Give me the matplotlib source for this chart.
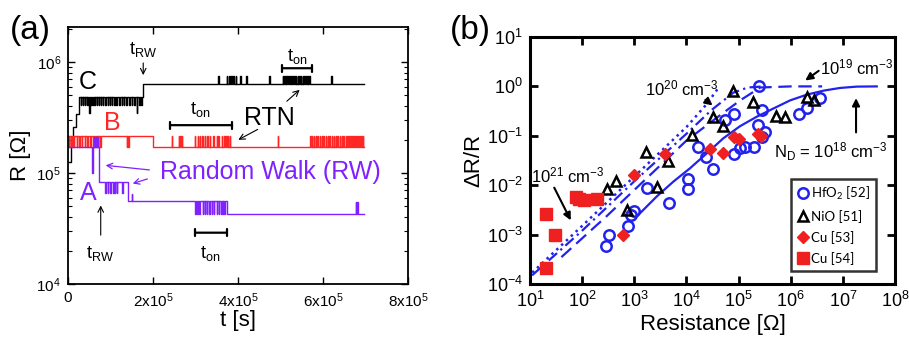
import matplotlib
matplotlib.use('Agg')
import matplotlib.pyplot as plt
import numpy as np
from bisect import bisect_right

plt.rcParams['font.family'] = ['Liberation Sans', 'DejaVu Sans']
plt.rcParams['mathtext.default'] = 'regular'

# ---------------- panel (a): R vs t traces ----------------
t_end = 6.96e5
spike_w = 1.2e3

# trace A (purple)
a_t = [0, 7.4e4, 1.42e5, 3.74e5]
a_r = [1.7e5, 8.3e4, 5.6e4, 4.3e4]
a_spike_levels = [1.0e5, 2.1e5, 6.6e4, 6.5e4, 4.3e4, 5.5e4]
a_spike_times = [
    [5.7e4],
    [6.0e4, 6.25e4, 6.5e4, 6.75e4, 7.0e4],
    [8.8e4, 9.3e4, 9.9e4, 1.06e5, 1.1e5, 1.15e5, 1.28e5],
    [1.5e5],
    [2.99e5, 3.04e5, 3.09e5, 3.17e5, 3.22e5, 3.27e5, 3.32e5, 3.38e5,
     3.43e5, 3.5e5, 3.55e5, 3.6e5, 3.64e5, 3.68e5],
    [6.77e5, 6.8e5],
]

# trace B (red)
b_t = [0, 2.0e5]
b_r = [2.15e5, 1.71e5]
b_spike_levels = [1.71e5, 2.15e5]
b_spike_times = [
    [2e3, 6e3, 1.0e4, 1.4e4, 2.0e4, 2.6e4, 3.2e4, 3.9e4, 4.5e4, 5.2e4,
     5.9e4, 6.4e4, 7.0e4, 7.6e4, 1.38e5, 1.4e5, 1.42e5],
    [2.44e5, 2.6e5, 2.64e5, 2.68e5, 2.98e5, 3.05e5, 3.1e5, 3.16e5, 3.22e5,
     3.28e5, 3.33e5, 3.42e5, 3.5e5, 3.54e5, 3.62e5, 3.68e5, 3.72e5, 3.76e5,
     3.8e5, 4.94e5, 5.7e5, 5.74e5, 5.78e5, 5.83e5, 5.87e5, 5.92e5, 5.97e5,
     6.01e5, 6.06e5, 6.11e5, 6.15e5, 6.2e5, 6.25e5, 6.3e5, 6.34e5, 6.39e5,
     6.44e5, 6.48e5, 6.53e5, 6.57e5, 6.62e5, 6.67e5, 6.71e5, 6.76e5, 6.8e5,
     6.85e5, 6.9e5, 6.94e5],
]

# trace C (black)
c_t = [0, 6e3, 1.2e4, 1.8e4, 2.6e4, 1.77e5]
c_r = [1.25e5, 1.9e5, 2.6e5, 3.4e5, 4.8e5, 6.3e5]
c_spike_levels = [4.1e5, 3.5e5, 7.5e5]
c_spike_times = [
    [3.0e4, 3.5e4, 3.9e4, 4.4e4, 4.8e4, 5.5e4, 5.9e4, 6.3e4, 6.8e4, 7.2e4,
     7.7e4, 8.2e4, 8.8e4, 9.3e4, 9.8e4, 1.03e5, 1.09e5, 1.14e5, 1.2e5,
     1.26e5, 1.31e5, 1.37e5, 1.44e5, 1.5e5, 1.56e5, 1.68e5, 1.72e5],
    [5.0e4, 1.62e5],
    [3.54e5, 3.74e5, 3.79e5, 3.84e5, 3.89e5, 3.95e5, 4.05e5, 4.19e5, 4.74e5,
     5.05e5, 5.09e5, 5.12e5, 5.16e5, 5.2e5, 5.24e5, 5.28e5, 5.32e5, 5.36e5,
     5.4e5, 5.44e5, 5.48e5, 5.52e5, 5.56e5, 5.6e5, 5.64e5, 5.68e5, 6.19e5],
]

# ---------------- panel (b): dR/R vs resistance ----------------
hfo2_r = [282, 333, 747, 865, 988, 1730, 4630, 1.09e4, 1.09e4, 1.69e4, 2.38e4,
          3.19e4, 5.5e4, 8.3e4, 8.3e4, 1.07e5, 1.33e5, 1.98e5, 2.4e5, 2.5e5,
          2.78e5, 2.78e5, 3.2e5, 1.47e6, 2.03e6, 3.66e6]
hfo2_d = [5.9e-4, 9.9e-4, 1.5e-3, 2.5e-3, 3.0e-3, 8.9e-3, 4.3e-3, 1.34e-2, 8.4e-3,
          6.0e-2, 3.7e-2, 2.1e-2, 0.21, 0.28, 4.3e-2, 5.6e-2, 6.0e-2, 6.0e-2,
          0.165, 1.0, 0.33, 0.096, 0.12, 0.28, 0.36, 0.57]

nio_r = [296, 440, 714, 1680, 2770, 4500, 1.26e4, 3.19e4, 5.1e4, 7.7e4, 1.87e5,
         5.2e5, 7.8e5, 2.03e6, 2.85e6]
nio_d = [8.3e-3, 1.22e-2, 3.2e-3, 4.8e-2, 9.4e-3, 3.1e-2, 0.104, 0.24, 0.157,
         0.81, 0.49, 0.25, 0.24, 0.62, 0.54]

cu53_r = [599, 1000, 3890, 2.84e4, 4.97e4, 8.2e4, 1.04e5, 2.4e5, 2.7e5]
cu53_d = [1.0e-3, 1.6e-2, 4.3e-2, 5.3e-2, 4.5e-2, 0.093, 0.088, 0.11, 0.10]

cu54_r = [20, 30, 20, 76, 88, 109, 196]
cu54_d = [2.6e-3, 1.0e-3, 2.1e-4, 5.9e-3, 5.2e-3, 5.0e-3, 5.2e-3]

# model curves for different doping N_D
nd18_r = [1112, 2690, 5610, 1.17e4, 2.45e4, 5.1e4, 1.07e5, 2.23e5, 4.66e5,
          9.7e5, 2.03e6, 4.24e6, 8.8e6, 1.85e7, 4.47e7]
nd18_d = [2.32e-3, 5.9e-3, 1.18e-2, 2.2e-2, 4.4e-2, 8.9e-2, 0.157, 0.243, 0.357,
          0.52, 0.68, 0.82, 0.93, 0.99, 1.0]
nd19_r = [40, 300, 1000, 1e4, 4.4e4, 1.07e5, 2.6e5, 1e6, 4e6]
nd19_d = [3.5e-4, 2.4e-3, 8e-3, 0.08, 0.26, 0.52, 0.95, 1.0, 1.0]
nd20_r = [11, 100, 1000, 1e4, 3e4, 8e4, 1.5e5, 3e5]
nd20_d = [1.5e-4, 1.2e-3, 1.2e-2, 0.11, 0.33, 0.75, 0.95, 1.0]
nd21_r = [11, 100, 1000, 1e4, 2.5e4, 4e4]
nd21_d = [1.7e-4, 1.5e-3, 1.5e-2, 0.15, 0.45, 0.9]

PURPLE = '#7f22ff'
RED = '#ff2626'
BLUE = '#2222ee'
MRED = '#ee2020'


def trace_xy(base_t, base_r, levels, times, w, end):
    spikes = [(t, lv) for lv, ts in zip(levels, times) for t in ts]
    edges = sorted(set(base_t + [s[0] for s in spikes] +
                       [s[0] + w for s in spikes] + [end]))
    ys = []
    for e in edges:
        r = base_r[bisect_right(base_t, e) - 1]
        for st, lv in spikes:
            if st <= e < st + w:
                r = lv
        ys.append(r)
    return edges, ys


fig = plt.figure(figsize=(9.09, 3.39), dpi=100)
ax1 = fig.add_axes([68 / 909, 1 - 284 / 339, 340 / 909, 257 / 339])
ax2 = fig.add_axes([530 / 909, 1 - 284 / 339, 365 / 909, 247 / 339])

# ---- (a)
for bt, br, lv, ts, col in [(c_t, c_r, c_spike_levels, c_spike_times, 'k'),
                             (b_t, b_r, b_spike_levels, b_spike_times, RED),
                             (a_t, a_r, a_spike_levels, a_spike_times, PURPLE)]:
    x, y = trace_xy(bt, br, lv, ts, spike_w, t_end)
    ax1.plot(x, y, drawstyle='steps-post', color=col, lw=1.0)

ax1.set_yscale('log')
ax1.set_xlim(0, 8e5)
ax1.set_ylim(1e4, 2.07e6)
ax1.set_xticks([0, 2e5, 4e5, 6e5, 8e5])
ax1.set_xticklabels(['0', '2x10$^5$', '4x10$^5$', '6x10$^5$', '8x10$^5$'])
ax1.tick_params(which='both', direction='in', top=True, right=True, labelsize=11)
ax1.tick_params(which='major', length=5, width=1.0, pad=5)
ax1.tick_params(which='minor', length=3, width=0.8)
ax1.set_xlabel('t [s]', fontsize=16, labelpad=0)
ax1.set_ylabel('R [Ω]', fontsize=16, labelpad=4)
for s in ax1.spines.values():
    s.set_linewidth(1.3)

ax1.text(4.7e4, 6.6e5, 'C', fontsize=18, ha='center', va='center')
ax1.text(1.04e5, 2.82e5, 'B', fontsize=18, ha='center', va='center', color=RED)
ax1.text(4.7e4, 6.6e4, 'A', fontsize=18, ha='center', va='center', color=PURPLE)
ax1.text(4.75e5, 3.13e5, 'RTN', fontsize=18, ha='center', va='center')
ax1.text(2.16e5, 1.02e5, 'Random Walk (RW)', fontsize=18, ha='left', va='center',
         color=PURPLE)

ax1.text(1.76e5, 1.3e6, '$t_{RW}$', fontsize=13, ha='center', va='center')
ax1.annotate('', xy=(1.77e5, 7.2e5), xytext=(1.77e5, 1.04e6),
             arrowprops=dict(arrowstyle='->', lw=0.8, color='k'))
ax1.text(7.5e4, 1.9e4, '$t_{RW}$', fontsize=13, ha='center', va='center')
ax1.annotate('', xy=(7.7e4, 5.4e4), xytext=(7.7e4, 2.6e4),
             arrowprops=dict(arrowstyle='->', lw=0.8, color='k'))

for tc, rc, t0, t1, rb in [(3.1e5, 3.7e5, 2.4e5, 3.86e5, 2.7e5),
                           (5.39e5, 1.13e6, 5.04e5, 5.74e5, 8.8e5),
                           (3.34e5, 1.9e4, 2.99e5, 3.74e5, 2.9e4)]:
    ax1.text(tc, rc, '$t_{on}$', fontsize=13, ha='center', va='center')
    ax1.annotate('', xy=(t1, rb), xytext=(t0, rb),
                 arrowprops=dict(arrowstyle='|-|,widthA=0.25,widthB=0.25',
                                 lw=1.6, color='k', shrinkA=0, shrinkB=0))

ax1.annotate('', xy=(5.5e5, 5.84e5), xytext=(5.1e5, 4.27e5),
             arrowprops=dict(arrowstyle='->', lw=0.8, color='k'))
ax1.annotate('', xy=(3.95e5, 1.94e5), xytext=(4.52e5, 2.54e5),
             arrowprops=dict(arrowstyle='->', lw=0.8, color='k'))
ax1.annotate('', xy=(8.2e4, 1.18e5), xytext=(1.98e5, 1.06e5),
             arrowprops=dict(arrowstyle='->', lw=0.9, color=PURPLE))
ax1.annotate('', xy=(1.46e5, 7.9e4), xytext=(1.93e5, 9.0e4),
             arrowprops=dict(arrowstyle='->', lw=0.9, color=PURPLE))

# ---- (b)
ax2.plot(nd18_r, nd18_d, '-', color=BLUE, lw=1.6)
ax2.plot(nd19_r, nd19_d, '--', color=BLUE, lw=1.6, dashes=(6, 3))
ax2.plot(nd20_r, nd20_d, '-.', color=BLUE, lw=1.6, dashes=(5, 2, 1, 2))
ax2.plot(nd21_r, nd21_d, ':', color=BLUE, lw=1.8)

ax2.plot(hfo2_r, hfo2_d, 'o', ms=7.5, mfc='none', mec=BLUE, mew=1.8,
         label='HfO$_2$ [52]')
ax2.plot(nio_r, nio_d, '^', ms=7.5, mfc='none', mec='k', mew=1.8,
         label='NiO [51]')
ax2.plot(cu53_r, cu53_d, 'D', ms=6.5, color=MRED, mec=MRED, label='Cu [53]')
ax2.plot(cu54_r, cu54_d, 's', ms=8, color=MRED, mec=MRED, label='Cu [54]')

ax2.set_xscale('log')
ax2.set_yscale('log')
ax2.set_xlim(10, 1e8)
ax2.set_ylim(1e-4, 10)
ax2.set_xticks(10.0 ** np.arange(1, 9))
ax2.set_yticks(10.0 ** np.arange(-4, 2))
ax2.minorticks_off()
ax2.tick_params(which='major', direction='in', top=True, right=True,
                length=6, width=2, labelsize=13, pad=5)
for s in ax2.spines.values():
    s.set_linewidth(2.2)
ax2.set_xlabel('Resistance [Ω]', fontsize=16, labelpad=2)
ax2.set_ylabel('ΔR/R', fontsize=16, labelpad=2)

leg = ax2.legend(loc='upper left', bbox_to_anchor=(0.715, 0.425),
                 frameon=True, fancybox=False, handletextpad=0.15,
                 handlelength=0.9, borderpad=0.45, labelspacing=0.6,
                 borderaxespad=0,
                 prop={'family': ['Lato', 'DejaVu Sans'], 'size': 9.5})
leg.get_frame().set_edgecolor('k')
leg.get_frame().set_linewidth(1.8)

arrow_b = dict(arrowstyle='-|>', lw=1.5, color='k', mutation_scale=11)
ax2.text(53, 1.6e-2, '10$^{21}$ cm$^{-3}$', fontsize=12, ha='center', va='center')
ax2.annotate('', xy=(64, 1.73e-3), xytext=(27.6, 1.0e-2), arrowprops=arrow_b)
ax2.text(8.2e3, 0.92, '10$^{20}$ cm$^{-3}$', fontsize=12, ha='center', va='center')
ax2.annotate('', xy=(3.5e4, 0.38), xytext=(2.1e4, 0.58), arrowprops=arrow_b)
ax2.text(1.86e7, 2.44, '10$^{19}$ cm$^{-3}$', fontsize=12, ha='center', va='center')
ax2.annotate('', xy=(1.72e6, 1.22), xytext=(3.8e6, 2.23), arrowprops=arrow_b)
ax2.text(5.9e6, 0.047, 'N$_D$ = 10$^{18}$ cm$^{-3}$', fontsize=12,
         ha='center', va='center')
ax2.annotate('', xy=(1.79e7, 0.66), xytext=(1.79e7, 0.103), arrowprops=arrow_b)

fig.text(30 / 909, 1 - 30 / 339, '(a)', fontsize=24, ha='center', va='center')
fig.text(470 / 909, 1 - 30 / 339, '(b)', fontsize=24, ha='center', va='center')

fig.savefig('out.png', dpi=100)
